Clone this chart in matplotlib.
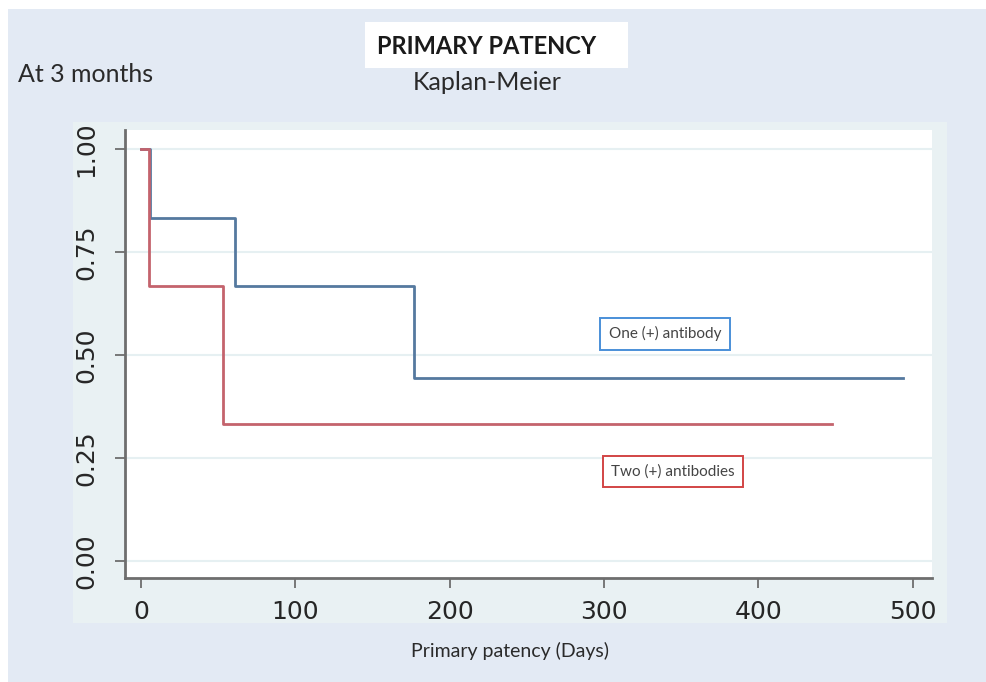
import matplotlib.pyplot as plt
from matplotlib.patches import Rectangle

# Kaplan-Meier step data (days, survival)
one_days = [0, 6, 61, 177, 494]
one_surv = [1.0, 0.833, 0.667, 0.444, 0.444]
two_days = [0, 5, 53, 448]
two_surv = [1.0, 0.667, 0.333, 0.333]

x_ticks = [0, 100, 200, 300, 400, 500]
y_ticks = [0.0, 0.25, 0.50, 0.75, 1.00]
y_tick_labels = ['0.00', '0.25', '0.50', '0.75', '1.00']

W, H = 987, 682
SOFT = ['Lato', 'DejaVu Sans']

fig = plt.figure(figsize=(W / 100, H / 100), dpi=100)
fig.patch.set_facecolor('white')


def px_rect(x0, y0, x1, y1, **kw):
    # rectangle given in pixel coords (origin top-left)
    r = Rectangle((x0 / W, 1 - y1 / H), (x1 - x0) / W, (y1 - y0) / H,
                  transform=fig.transFigure, zorder=-10, **kw)
    fig.patches.append(r)


px_rect(8, 9, W, H, facecolor='#e3eaf4', edgecolor='none')
px_rect(73, 122, 947, 623, facecolor='#e9f1f3', edgecolor='none')
px_rect(365, 22, 628, 68, facecolor='white', edgecolor='none')

ax = fig.add_axes([125 / W, 1 - 578 / H, 807 / W, 448 / H])
ax.set_facecolor('white')

ax.step(one_days, one_surv, where='post', color='#55799f', lw=2.0, zorder=3)
ax.step(two_days, two_surv, where='post', color='#c4636d', lw=2.0, zorder=4)

ax.set_xlim(-10.4, 512.6)
ax.set_ylim(-0.041, 1.046)
ax.set_xticks(x_ticks)
ax.set_yticks(y_ticks)
ax.set_yticklabels(y_tick_labels, rotation=90, va='center')
for s in ['top', 'right']:
    ax.spines[s].set_visible(False)
for s in ['left', 'bottom']:
    ax.spines[s].set_color('#6e6e6e')
    ax.spines[s].set_linewidth(2)
ax.tick_params(axis='both', direction='out', length=7, width=1.3, color='#6e6e6e',
               labelcolor='#262626', labelsize=18)
ax.tick_params(axis='y', pad=12)
ax.tick_params(axis='x', pad=9)
ax.grid(axis='y', color='#e6f0f2', lw=1.5)
ax.set_axisbelow(True)

# legend boxes placed inside the plot
ax.text(0.669, 0.545, 'One (+) antibody', transform=ax.transAxes, fontsize=11,
        family=SOFT, color='#444444', va='center', ha='center',
        bbox=dict(boxstyle='square,pad=0.55', fc='white', ec='#4a8fd8', lw=1.4))
ax.text(0.679, 0.237, 'Two (+) antibodies', transform=ax.transAxes, fontsize=11,
        family=SOFT, color='#444444', va='center', ha='center',
        bbox=dict(boxstyle='square,pad=0.55', fc='white', ec='#d24545', lw=1.4))

fig.text(487 / W, 1 - 46 / H, 'PRIMARY PATENCY', ha='center', va='center',
         fontsize=17, fontweight='bold', family=SOFT, color='#1a1a1a')
fig.text(487 / W, 1 - 83 / H, 'Kaplan-Meier', ha='center', va='center',
         fontsize=18, family=SOFT, color='#2a2a2a')
fig.text(18 / W, 1 - 74 / H, 'At 3 months', ha='left', va='center',
         fontsize=18, family=SOFT, color='#2a2a2a')
fig.text(510 / W, 1 - 651 / H, 'Primary patency (Days)', ha='center', va='center',
         fontsize=14, family=SOFT, color='#2a2a2a')

fig.savefig('out.png', dpi=100)
